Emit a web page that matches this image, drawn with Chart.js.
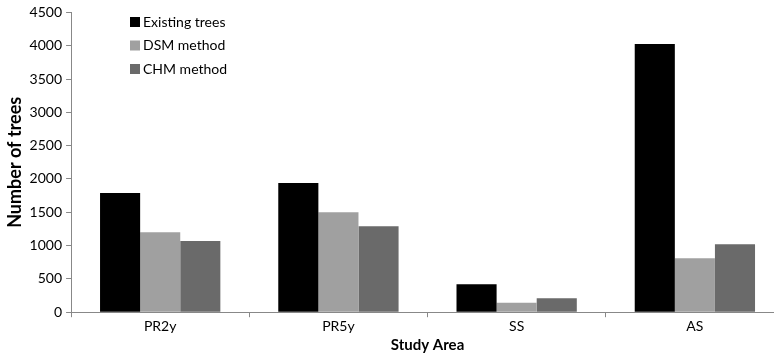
<!DOCTYPE html>
<html>
<head>
<meta charset="utf-8">
<script src="https://cdn.jsdelivr.net/npm/chart.js@4.4.1/dist/chart.umd.min.js"></script>
<style>
html,body{margin:0;padding:0;background:#fff;overflow:hidden;width:774px;height:356px;}
#wrap{width:786px;height:356px;}
</style>
</head>
<body>
<div id="wrap"><canvas id="c" width="786" height="356"></canvas></div>
<script>
const categories = ["PR2y", "PR5y", "SS", "AS"];
const existingTrees = [1790, 1940, 420, 4025];
const dsmMethod = [1200, 1500, 140, 810];
const chmMethod = [1070, 1290, 210, 1020];
const seriesLabels = ["Existing trees", "DSM method", "CHM method"];
const seriesColors = ["#000000", "#a0a0a0", "#6a6a6a"];
const yTicks = [0, 500, 1000, 1500, 2000, 2500, 3000, 3500, 4000, 4500];

const FONT = "Lato, sans-serif";

const insideLegend = {
  id: 'insideLegend',
  afterDraw(chart) {
    const ctx = chart.ctx;
    ctx.save();
    ctx.font = "14px " + FONT;
    ctx.textBaseline = 'middle';
    ctx.textAlign = 'left';
    chart.data.datasets.forEach((ds, i) => {
      const y = 22 + i * 23.5;
      ctx.fillStyle = ds.backgroundColor;
      ctx.fillRect(130, y - 5, 10, 10);
      ctx.fillStyle = '#000';
      ctx.fillText(ds.label, 143, y);
    });
    ctx.restore();
  }
};

new Chart(document.getElementById('c'), {
  type: 'bar',
  data: {
    labels: categories,
    datasets: [
      { label: seriesLabels[0], data: existingTrees, backgroundColor: seriesColors[0] },
      { label: seriesLabels[1], data: dsmMethod, backgroundColor: seriesColors[1] },
      { label: seriesLabels[2], data: chmMethod, backgroundColor: seriesColors[2] }
    ]
  },
  options: {
    responsive: false,
    animation: false,
    devicePixelRatio: 1,
    layout: { padding: { top: 6, left: 4, right: 2, bottom: 2 } },
    datasets: { bar: { categoryPercentage: 0.675, barPercentage: 1.0, borderWidth: 0 } },
    plugins: { legend: { display: false }, tooltip: { enabled: false } },
    scales: {
      x: {
        grid: { display: true, offset: true, drawOnChartArea: false, drawTicks: true, tickLength: 5, color: '#888' },
        border: { display: true, color: '#888', width: 1 },
        ticks: { color: '#000', font: { family: FONT, size: 14 }, padding: 1 },
        title: { display: true, text: 'Study Area', color: '#000', font: { family: FONT, size: 15, weight: 'bold' }, padding: { top: 0, bottom: 0 } }
      },
      y: {
        min: 0, max: 4500,
        afterBuildTicks(axis) { axis.ticks = yTicks.map(v => ({ value: v })); },
        grid: { display: true, drawOnChartArea: false, drawTicks: true, tickLength: 5, color: '#888' },
        border: { display: true, color: '#888', width: 1 },
        ticks: { color: '#000', font: { family: FONT, size: 14 }, padding: 4, callback: (v) => String(v) },
        title: { display: true, text: 'Number of trees', color: '#000', font: { family: FONT, size: 18, weight: 'bold' }, padding: { top: 0, bottom: 0 } }
      }
    }
  },
  plugins: [insideLegend]
});
</script>
</body>
</html>
